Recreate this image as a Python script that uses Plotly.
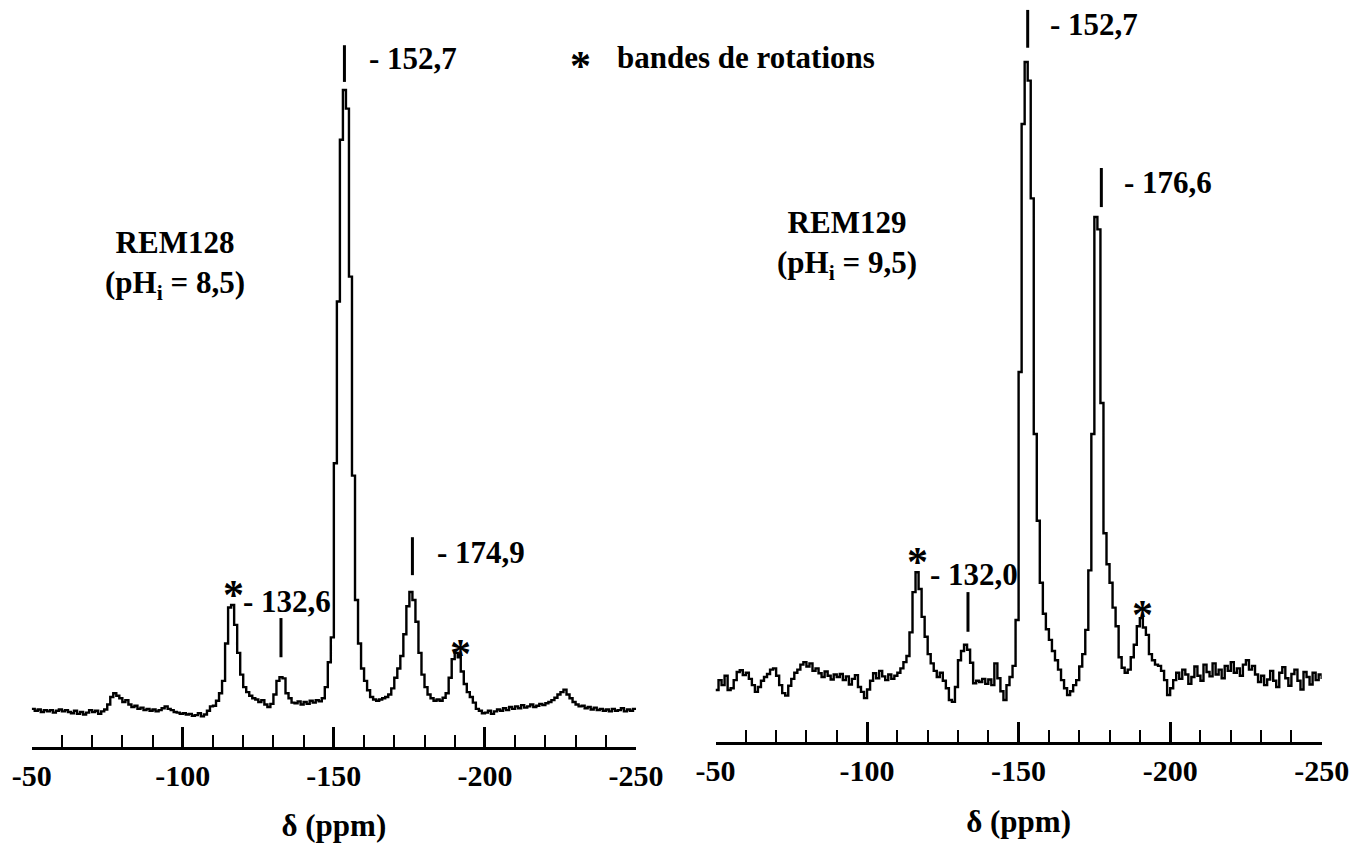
import plotly.graph_objects as go

# chemical shift grid (ppm), one point per ppm from -50 to -250
ppm = list(range(-50, -251, -1))

# REM128 (pHi = 8,5) intensities, arbitrary units (main peak = 100)
rem128 = [
    0.5, 0.2, 0.4, 0.0, 0.3, 0.1, 0.3, -0.1, 0.2, 0.4,
    0.1, 0.3, 0.0, -0.2, 0.2, -0.3, 0.0, -0.4, -0.1, 0.3,
    0.0, 0.2, -0.3, 0.1, 0.4, 1.2, 2.4, 3.0, 2.6, 2.2,
    1.6, 1.9, 1.2, 0.8, 1.0, 0.5, 0.7, 0.3, 0.5, 0.2,
    0.4, 0.1, 0.3, 0.6, 0.9, 0.5, 0.3, 0.0, -0.1, -0.3,
    -0.2, -0.4, -0.3, -0.6, -0.5, -0.2, -0.7, -0.4, 0.2, 0.9,
    1.0, 1.8, 3.0, 5.0, 11.0, 16.8, 17.2, 14.0, 9.5, 6.0,
    4.0, 3.2, 2.6, 2.2, 2.0, 1.6, 1.9, 1.2, 0.8, 1.3,
    2.8, 5.0, 5.6, 5.4, 3.0, 2.2, 1.5, 1.4, 1.7, 1.2,
    1.6, 1.3, 1.8, 1.5, 1.9, 1.7, 2.2, 4.0, 8.0, 12.0,
    40.0, 66.0, 92.0, 100.0, 97.0, 70.0, 38.0, 18.0, 11.0, 7.0,
    5.0, 3.5, 2.4, 2.0, 1.8, 2.0, 2.2, 2.4, 2.8, 3.8,
    5.5, 7.0, 9.0, 12.5, 17.0, 19.3, 18.0, 14.5, 9.5, 6.0,
    4.0, 2.8, 2.2, 1.8, 2.0, 1.8, 2.3, 3.0, 5.5, 8.5,
    9.5, 8.8, 6.5, 4.5, 3.2, 2.4, 1.5, 0.5, 0.2, -0.2,
    -0.1, 0.2, -0.3, 0.1, 0.4, 0.2, 0.6, 0.3, 0.8, 0.5,
    0.9, 0.6, 1.1, 0.7, 0.9, 1.2, 0.8, 1.0, 1.3, 1.1,
    1.4, 1.6, 1.9, 2.3, 2.8, 3.2, 3.6, 2.8, 2.2, 1.6,
    1.2, 0.9, 1.0, 0.6, 0.8, 0.4, 0.7, 0.3, 0.5, 0.2,
    0.4, 0.1, 0.5, 0.2, 0.3, 0.6, 0.1, 0.4, 0.2, 0.5, 0.3,
]

# REM129 (pHi = 9,5) intensities, arbitrary units (main peak = 100)
rem129 = [
    -1.3, 0.3, -0.5, 1.0, -1.3, -1.0, 0.3, 1.6, 1.9, 1.1,
    1.5, 0.5, -0.5, -1.6, -0.8, 0.2, 0.8, 1.3, 2.0, 2.2,
    1.0, -0.5, -1.8, -2.2, -0.6, 0.5, 1.5, 2.0, 2.8, 3.2,
    2.5, 3.0, 1.8, 2.2, 1.4, 0.8, 1.7, 1.0, 0.4, 1.2,
    0.8, 1.3, 0.3, 0.9, -0.4, 0.5, 1.1, -0.8, -1.6, -2.6,
    -1.2, 0.2, 1.4, 0.6, 1.8, 0.9, 0.3, 1.2, 0.5, 1.0,
    1.5, 2.2, 3.2, 4.2, 8.0, 14.5, 17.7, 15.0, 10.5, 7.3,
    4.5, 3.0, 1.8, 0.8, 1.5, 0.2, -1.0, -2.9, -3.2, -0.8,
    3.5, 5.0, 6.0, 5.2, 3.1, -0.2, 0.2, 0.0, 0.5, -0.3,
    0.4, -0.5, 3.0, 0.6, -1.5, -2.9, -0.5, 0.8, 2.6, 10.0,
    50.0, 90.0, 100.0, 97.0, 78.0, 40.0, 26.0, 16.0, 11.0, 8.5,
    6.8, 5.0, 3.5, 2.0, 0.3, -1.0, -2.1, -1.5, -0.5, 0.3,
    2.5, 4.5, 8.4, 18.0, 40.0, 75.0, 73.0, 45.0, 24.0, 19.0,
    16.0, 12.0, 9.0, 4.0, 2.3, 1.5, 2.0, 4.0, 6.0, 9.0,
    10.3, 8.8, 7.6, 4.5, 3.5, 2.8, 2.6, 1.8, 0.3, -2.1,
    -1.0, 0.3, 1.5, 0.5, 2.0, 1.2, -0.3, 0.8, 2.5, 1.0,
    0.2, 2.8, 1.6, 0.9, 3.0, 1.2, 2.0, 0.6, 2.6, 1.8,
    3.2, 1.5, 2.2, 1.0, 2.8, 3.5, 2.0, 2.6, 1.2, 0.0,
    1.0, -0.5, 0.4, 1.8, 0.2, -0.8, 1.5, 2.4, 0.6, -0.6,
    1.3, 2.0, 0.2, -1.2, 1.6, 0.8, -0.4, 1.5, 0.3, 1.2, 0.5,
]

tick_vals = [-50, -100, -150, -200, -250]
tick_text = ["-50", "-100", "-150", "-200", "-250"]

# peak labels: (ppm of the marker line, label text)
labels_128 = [(-153.5, "- 152,7"), (-176.0, "- 174,9"), (-132.5, "- 132,6")]
labels_129 = [(-153.0, "- 152,7"), (-177.3, "- 176,6"), (-133.3, "- 132,0")]
# spinning side bands (ppm of the asterisk)
stars_128 = [-116.7, -191.8]
stars_129 = [-116.8, -191.0]

FONT = "'Liberation Serif', 'Times New Roman', Times, serif"
BLACK = "#000000"

fig = go.Figure()
fig.add_trace(go.Scatter(x=ppm, y=rem128, mode="lines", line=dict(color=BLACK, width=2.4, shape="hv"),
                         xaxis="x", yaxis="y", showlegend=False, hoverinfo="skip"))
fig.add_trace(go.Scatter(x=ppm, y=rem129, mode="lines", line=dict(color=BLACK, width=2.4, shape="hv"),
                         xaxis="x2", yaxis="y2", showlegend=False, hoverinfo="skip"))

def xaxis(domain):
    return dict(
        domain=domain, range=[-50, -250], showgrid=False, zeroline=False,
        showline=True, linecolor=BLACK, linewidth=3,
        ticks="inside", ticklen=20, tickwidth=2.5, tickcolor=BLACK,
        tickvals=tick_vals, ticktext=tick_text,
        tickfont=dict(family=FONT, size=30, color=BLACK, weight="bold"),
        minor=dict(ticks="inside", ticklen=12, tickwidth=2, tickcolor=BLACK, dtick=10, tick0=-50),
        title=dict(text="δ (ppm)", font=dict(family=FONT, size=31, color=BLACK, weight="bold"), standoff=25),
        automargin=False,
        fixedrange=True,
    )

fig.update_layout(
    width=1367, height=843,
    margin=dict(l=0, r=0, t=0, b=0, autoexpand=False),
    paper_bgcolor="white", plot_bgcolor="white",
    xaxis=xaxis([0.02319, 0.46526]),
    xaxis2=dict(xaxis([0.52341, 0.96686]), anchor="y2"),
    yaxis=dict(domain=[0.11388, 1.0], range=[-5.63, 114.47], visible=False, fixedrange=True),
    yaxis2=dict(domain=[0.11981, 1.0], range=[-9.68, 110.0], visible=False, fixedrange=True, anchor="x2"),
)
fig.layout.xaxis.anchor = "y"

lab_font = dict(family=FONT, size=31, color=BLACK, weight="bold")
star_font = dict(family=FONT, size=42, color=BLACK, weight="bold")

annotations = []
shapes = []

# line heights (intensity units) and text offsets for each panel's labels
line_y_128 = [(101.3, 107.2), (22.0, 28.1), (8.8, 15.1)]
text_pos_128 = [(-161.0, 105.1), (-183.6, 25.7), (-119.2, 17.7)]
line_y_129 = [(102.3, 108.4), (76.6, 82.9), (8.1, 14.5)]
text_pos_129 = [(-159.7, 106.0), (-184.1, 80.6), (-120.1, 17.3)]
star_y_128 = [18.8, 9.3]
star_y_129 = [19.4, 10.8]

for (pos, txt), (y0, y1), (tx, ty) in zip(labels_128, line_y_128, text_pos_128):
    shapes.append(dict(type="line", xref="x", yref="y", x0=pos, x1=pos, y0=y0, y1=y1,
                       line=dict(color=BLACK, width=3)))
    annotations.append(dict(xref="x", yref="y", x=tx, y=ty, text=txt, showarrow=False,
                            xanchor="left", yanchor="middle", font=lab_font))
for (pos, txt), (y0, y1), (tx, ty) in zip(labels_129, line_y_129, text_pos_129):
    shapes.append(dict(type="line", xref="x2", yref="y2", x0=pos, x1=pos, y0=y0, y1=y1,
                       line=dict(color=BLACK, width=3)))
    annotations.append(dict(xref="x2", yref="y2", x=tx, y=ty, text=txt, showarrow=False,
                            xanchor="left", yanchor="middle", font=lab_font))
for sx, sy in zip(stars_128, star_y_128):
    annotations.append(dict(xref="x", yref="y", x=sx, y=sy, text="*", showarrow=False,
                            xanchor="center", yanchor="middle", font=star_font))
for sx, sy in zip(stars_129, star_y_129):
    annotations.append(dict(xref="x2", yref="y2", x=sx, y=sy, text="*", showarrow=False,
                            xanchor="center", yanchor="middle", font=star_font))

annotations.append(dict(xref="x", yref="y", x=-97.4, y=71.9, text="REM128<br>(pH<sub>i</sub> = 8,5)",
                        showarrow=False, xanchor="center", yanchor="middle", font=lab_font))
annotations.append(dict(xref="x2", yref="y2", x=-93.4, y=70.5, text="REM129<br>(pH<sub>i</sub> = 9,5)",
                        showarrow=False, xanchor="center", yanchor="middle", font=lab_font))
annotations.append(dict(xref="paper", yref="paper", x=0.425, y=0.922, text="*", showarrow=False,
                        xanchor="center", yanchor="middle", font=star_font))
annotations.append(dict(xref="paper", yref="paper", x=0.4499, y=0.9312, text="bandes de rotations",
                        showarrow=False, xanchor="left", yanchor="middle", font=lab_font))

fig.update_layout(annotations=annotations, shapes=shapes)
fig.write_html("out.html", config={"displayModeBar": False},
               post_script="document.body.style.margin='0px';document.body.style.overflow='hidden';")
